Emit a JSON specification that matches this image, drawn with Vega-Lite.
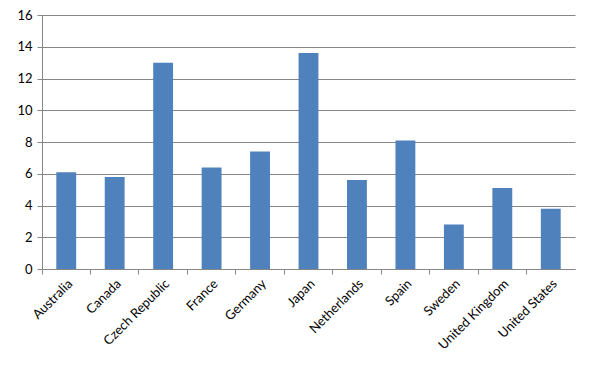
{
  "$schema": "https://vega.github.io/schema/vega-lite/v6.json",
  "autosize": "none",
  "width": 533,
  "height": 254,
  "padding": {"left": 42, "top": 15, "right": 16, "bottom": 103},
  "background": "white",
  "data": {"values": [
    {"country": "Australia", "value": 6.1},
    {"country": "Canada", "value": 5.8},
    {"country": "Czech Republic", "value": 13.0},
    {"country": "France", "value": 6.4},
    {"country": "Germany", "value": 7.4},
    {"country": "Japan", "value": 13.6},
    {"country": "Netherlands", "value": 5.6},
    {"country": "Spain", "value": 8.1},
    {"country": "Sweden", "value": 2.8},
    {"country": "United Kingdom", "value": 5.1},
    {"country": "United States", "value": 3.8}
  ]},
  "config": {
    "view": {"stroke": null},
    "font": "Lato",
    "axis": {"labelFont": "Lato", "labelFontSize": 13, "labelColor": "#000000", "domainColor": "#868686", "tickColor": "#868686", "gridColor": "#868686", "title": null}
  },
  "layer": [
    {
      "mark": {"type": "bar", "color": "#4F81BD", "width": {"band": 0.41}},
      "encoding": {
        "x": {"field": "country", "type": "nominal", "sort": null,
              "scale": {"paddingInner": 0, "paddingOuter": 0},
              "axis": {"orient": "bottom", "labelAngle": -45, "labelAlign": "right", "labelBaseline": "top", "ticks": false, "domain": true, "labelPadding": 8}},
        "y": {"field": "value", "type": "quantitative",
              "scale": {"domain": [0, 16], "nice": false},
              "axis": {"values": [0, 2, 4, 6, 8, 10, 12, 14, 16], "labelOverlap": false, "grid": true, "tickSize": 5, "labelPadding": 5, "gridOpacity": 1}}
      }
    },
    {
      "mark": {"type": "bar", "opacity": 0},
      "encoding": {
        "x": {"field": "country", "type": "nominal", "sort": null,
              "axis": {"orient": "bottom", "labels": false, "ticks": true, "tickSize": 5, "bandPosition": 0, "domain": false}}
      }
    }
  ],
  "resolve": {"axis": {"x": "independent"}}
}
